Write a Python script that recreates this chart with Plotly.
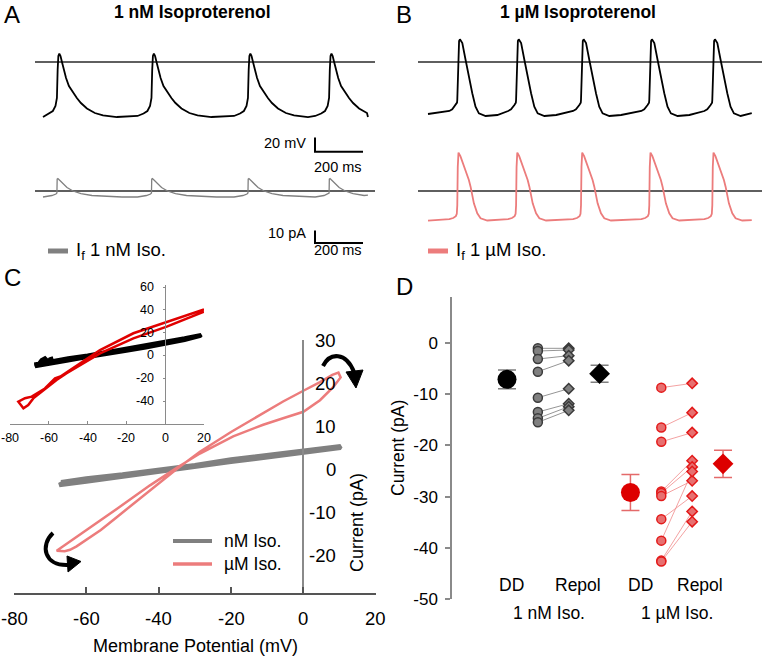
import plotly.graph_objects as go

W, H = 762, 657
FONT = "Liberation Sans, Arial, sans-serif"

# ---------------- DATA ----------------
# Panel A (1 nM Iso): beat template, ms relative to upstroke
A_V_T = [-58, -33, -17, -6, 0, 3, 6, 10, 15, 21, 29, 38, 50, 62.5, 83, 100, 125, 158, 192, 250]
A_V_MV = [-77.1, -73.6, -70.0, -62.9, -51.4, -11.4, 8.6, 12.1, 8.6, 0.0, -11.4, -22.9, -34.3,
          -41.4, -51.4, -58.6, -66.4, -72.9, -76.4, -78.6]
A_I_T = [-58, -21, -4, 0, 1, 4, 12.5, 25, 42, 67, 100, 146, 208, 271]
A_I_PA = [-5.0, -3.75, -2.5, -1.7, 10.0, 10.4, 8.75, 6.25, 2.9, 0.0, -2.1, -3.75, -4.6, -5.0]
A_ONSETS_MS = [58, 452, 854, 1192]
A_SPAN_MS = [0, 1354]
A_V_ENDS = [-78.6, -78.6]
A_I_ENDS = [-5.0, -3.5]

# Panel B (1 uM Iso)
B_V_T = [-33, -21, -7, -1, 0, 3, 7.5, 11, 21, 34.7, 48, 62.5, 76, 90, 118, 167]
B_V_MV = [-70.0, -67.6, -61.4, -58.0, -54.3, 2.9, 30.0, 32.4, 27.0, 2.9, -21.0, -44.7,
          -63.9, -73.3, -77.1, -75.7]
B_I_T = [-33, -17, -6, -2, 0, 2, 5, 13, 22, 34.6, 48.3, 55.4, 69.2, 83.3, 97, 125, 167]
B_I_PA = [-23.5, -22.5, -21.0, -19.0, -12.0, 20.0, 32.0, 29.0, 24.0, 17.5, 9.2, 3.6,
          -10.3, -18.6, -22.8, -24.6, -24.2]
B_ONSETS_MS = [122, 367, 637.5, 922, 1184.6]
B_SPAN_MS = [0, 1349]
B_V_ENDS = [-74.3, -72.9]
B_I_ENDS = [-24.75, -24.2]

# Panel C main: I-V loops (mV, pA)
C_NM_V = [-67.0, -60, -50, -40, -30, -20, -10, 0, 10.3, 10.0, 0, -10, -20, -30, -40, -50, -60, -67.5, -66, -63]
C_NM_I = [-3.1, -2.2, -1.3, -0.3, 0.9, 2.2, 3.2, 4.2, 5.3, 4.9, 3.7, 2.7, 1.7, 0.5, -0.7, -1.8, -2.9, -3.7, -3.0, -2.6]
C_UM_V = [-35, -28.6, -20, -11.1, -5.6, 0, 4.6, 8.0, 9.7, 10.3, 8.3, 4.6, 0, -5.6, -11.1, -19.4,
          -28.6, -35, -42.4, -51.6, -60.8, -66, -68.2, -66, -64.5, -62.7, -56, -51.6, -42.4, -35]
C_UM_I = [0.0, 4.0, 8.6, 13.0, 15.7, 18.2, 20.2, 21.9, 22.4, 21.3, 19.1, 16.0, 13.3, 11.8, 10.3, 7.6,
          3.6, 0.3, -3.8, -9.3, -14.6, -17.8, -19.0, -19.1, -18.8, -18.0, -14.2, -11.2, -5.1, 0.0]
C_TICKS_X = [-80, -60, -40, -20, 0, 20]
C_TICKS_Y = [30, 20, 10, 0, -10, -20]

# Panel C inset
IN_NM_V = [-67.5, -60, -50, -40, -30, -20, -10, 0, 10, 18.5, 18, 10, 0, -10, -20, -30, -40, -50,
           -60, -67.1, -64.9, -63.7, -62.0, -61, -60.3, -59.4, -57.7]
IN_NM_I = [-8.0, -5.5, -2.5, 0.0, 3.0, 5.5, 8.5, 11.5, 15.0, 18.0, 17.0, 13.5, 10.0, 7.0, 4.0, 1.5,
           -1.5, -4.5, -7.5, -9.5, -6.9, -4.0, -2.5, -4.5, -5.5, -3.4, -2.5]
IN_UM_V = [20, 10, 0.8, -16.4, -33.6, -50.8, -56, -68, -70.6, -73.1, -75.7, -72.3, -68.8, -62,
           -56.8, -54, -33.6, -16.4, 0.8, 20]
IN_UM_I = [38.3, 31.5, 25.2, 15.0, 1.8, -15.7, -21.6, -37.7, -43.5, -46.4, -40.6, -37.6, -36.2,
           -29.0, -20.1, -18.5, 4.7, 19.4, 29.6, 40.4]
IN_TICKS_X = [-80, -60, -40, -20, 0, 20]
IN_TICKS_Y = [60, 40, 20, 0, -20, -40]

# Panel D: paired currents (pA)
D_NM_DD = [-1.04, -1.56, -3.13, -5.60, -10.68, -13.48, -14.71, -15.49]
D_NM_REPOL = [-1.04, -1.37, -2.47, -3.45, -8.92, -11.85, -12.43, -13.15]
D_UM_DD = [-8.72, -16.5, -19.3, -29.0, -29.3, -29.9, -34.4, -38.6, -42.5, -42.7]
D_UM_REPOL = [-7.88, -13.6, -17.5, -23.0, -24.2, -26.9, -29.9, -25.1, -32.9, -34.9]
D_MEAN_POS = [1, 4, 5, 8]
D_MEAN_VAL = [-7.1, -6.0, -29.2, -23.6]
D_MEAN_ERR = [1.85, 1.65, 3.5, 2.65]
D_PAIR_POS = [2, 3, 6, 7]
D_TICKS_Y = [0, -10, -20, -30, -40, -50]
D_CAT1 = ["DD", "Repol", "DD", "Repol"]
D_CAT1_X = [1.16, 3.3, 5.31, 7.25]
D_CAT2 = ["1 nM Iso.", "1 µM Iso."]
D_CAT2_X = [2.36, 6.51]

BLACK = "#000000"
GRAY = "#808080"
PINK = "#ec7c7c"
RED = "#e00000"


# ---------------- helpers ----------------
def build_trace(t_tpl, v_tpl, onsets, span, ends):
    ts, vs = [span[0]], [ends[0]]
    for o in onsets:
        for t, v in zip(t_tpl, v_tpl):
            tt = o + t
            if span[0] < tt < span[1]:
                ts.append(tt)
                vs.append(v)
    ts.append(span[1])
    vs.append(ends[1])
    return ts, vs


def xdom(p0, p1):
    return [p0 / W, min(p1 / W, 1.0)]


def ydom(top, bot):
    return [1 - bot / H, 1 - top / H]


def xr(p0, p1, pref, vref, scale):
    return [vref + (p0 - pref) / scale, vref + (p1 - pref) / scale]


def yr(top, bot, pref, vref, scale):
    return [vref + (pref - bot) / scale, vref + (pref - top) / scale]


def PX(x):
    return x / W


def PY(y):
    return 1 - y / H


def path(points, close=False):
    s = "M " + " L ".join(f"{PX(x):.5f},{PY(y):.5f}" for x, y in points)
    return s + (" Z" if close else "")


def cpath(p0, c1, c2, p1):
    f = lambda p: f"{PX(p[0]):.5f},{PY(p[1]):.5f}"
    return f"M {f(p0)} C {f(c1)} {f(c2)} {f(p1)}"


annotations = []


def ann(text, x, y, size, xanchor="center", yanchor="middle", bold=False, angle=0,
        xref="paper", yref="paper", color="#000"):
    if xref == "paper":
        x = PX(x)
    if yref == "paper":
        y = PY(y)
    annotations.append(dict(text=f"<b>{text}</b>" if bold else text, x=x, y=y, xref=xref, yref=yref,
                            xanchor=xanchor, yanchor=yanchor, showarrow=False, textangle=angle,
                            font=dict(family=FONT, size=size, color=color)))


shapes = []


def seg(x0, y0, x1, y1, color=BLACK, width=2):
    shapes.append(dict(type="line", xref="paper", yref="paper", x0=PX(x0), y0=PY(y0), x1=PX(x1),
                       y1=PY(y1), line=dict(color=color, width=width)))


fig = go.Figure()

# ---------------- Panel A / B traces ----------------
tA_v, vA = build_trace(A_V_T, A_V_MV, A_ONSETS_MS, A_SPAN_MS, A_V_ENDS)
tA_i, iA = build_trace(A_I_T, A_I_PA, A_ONSETS_MS, A_SPAN_MS, A_I_ENDS)
tB_v, vB = build_trace(B_V_T, B_V_MV, B_ONSETS_MS, B_SPAN_MS, B_V_ENDS)
tB_i, iB = build_trace(B_I_T, B_I_PA, B_ONSETS_MS, B_SPAN_MS, B_I_ENDS)

fig.add_trace(go.Scatter(x=tA_v, y=vA, mode="lines", line=dict(color=BLACK, width=1.8),
                         xaxis="x", yaxis="y", hoverinfo="skip"))
fig.add_trace(go.Scatter(x=tA_i, y=iA, mode="lines", line=dict(color=GRAY, width=1.3),
                         xaxis="x2", yaxis="y2", hoverinfo="skip"))
fig.add_trace(go.Scatter(x=tB_v, y=vB, mode="lines", line=dict(color=BLACK, width=1.8),
                         xaxis="x3", yaxis="y3", hoverinfo="skip"))
fig.add_trace(go.Scatter(x=tB_i, y=iB, mode="lines", line=dict(color=PINK, width=1.8),
                         xaxis="x4", yaxis="y4", hoverinfo="skip"))

# ---------------- Panel C ----------------
fig.add_trace(go.Scatter(x=C_NM_V, y=C_NM_I, mode="lines", line=dict(color=GRAY, width=4.5),
                         xaxis="x5", yaxis="y5", hoverinfo="skip"))
fig.add_trace(go.Scatter(x=C_UM_V, y=C_UM_I, mode="lines", line=dict(color=PINK, width=2.5),
                         xaxis="x5", yaxis="y5", hoverinfo="skip"))
fig.add_trace(go.Scatter(x=IN_NM_V, y=IN_NM_I, mode="lines", line=dict(color=BLACK, width=4),
                         xaxis="x6", yaxis="y6", hoverinfo="skip"))
fig.add_trace(go.Scatter(x=IN_UM_V, y=IN_UM_I, mode="lines", line=dict(color=RED, width=2.5),
                         xaxis="x6", yaxis="y6", hoverinfo="skip"))


# ---------------- Panel D ----------------
def pair_lines(x0, x1, a, b):
    xs, ys = [], []
    for u, v in zip(a, b):
        xs += [x0, x1, None]
        ys += [u, v, None]
    return xs, ys


xs, ys = pair_lines(D_PAIR_POS[0], D_PAIR_POS[1], D_NM_DD, D_NM_REPOL)
fig.add_trace(go.Scatter(x=xs, y=ys, mode="lines", line=dict(color="#7a7a7a", width=0.8),
                         xaxis="x7", yaxis="y7", hoverinfo="skip"))
xs, ys = pair_lines(D_PAIR_POS[2], D_PAIR_POS[3], D_UM_DD, D_UM_REPOL)
fig.add_trace(go.Scatter(x=xs, y=ys, mode="lines", line=dict(color="#f08a8a", width=0.8),
                         xaxis="x7", yaxis="y7", hoverinfo="skip"))

small = [
    (D_PAIR_POS[0], D_NM_DD, "circle", 9, GRAY, "#3a3a3a"),
    (D_PAIR_POS[1], D_NM_REPOL, "diamond", 8, GRAY, "#3a3a3a"),
    (D_PAIR_POS[2], D_UM_DD, "circle", 9, "#e77070", "#e31a1a"),
    (D_PAIR_POS[3], D_UM_REPOL, "diamond", 8, "#e77070", "#e31a1a"),
]
for pos, vals, sym, sz, fc, lc in small:
    fig.add_trace(go.Scatter(x=[pos] * len(vals), y=vals, mode="markers",
                             marker=dict(symbol=sym, size=sz, color=fc, line=dict(color=lc, width=1.5)),
                             xaxis="x7", yaxis="y7", hoverinfo="skip"))

mean_styles = [("circle", 19, BLACK, "#7f7f7f"), ("diamond", 16, BLACK, "#7f7f7f"),
               ("circle", 19, "#dd0000", "#e46a6a"), ("diamond", 16, "#dd0000", "#e46a6a")]
for pos, val, err, (sym, sz, col, ecol) in zip(D_MEAN_POS, D_MEAN_VAL, D_MEAN_ERR, mean_styles):
    fig.add_trace(go.Scatter(x=[pos], y=[val], mode="markers",
                             error_y=dict(type="data", array=[err], color=ecol, thickness=1.5, width=9),
                             marker=dict(symbol=sym, size=sz, color=col, line=dict(width=0)),
                             xaxis="x7", yaxis="y7", hoverinfo="skip"))

# ---------------- axes ----------------
hidden = dict(visible=False, fixedrange=True, showgrid=False, zeroline=False, automargin=False)
common = dict(showgrid=False, zeroline=False, fixedrange=True, automargin=False)
lay = dict(
    template="none",
    width=W, height=H, margin=dict(l=0, r=0, t=0, b=0, pad=0, autoexpand=False), showlegend=False,
    paper_bgcolor="white", plot_bgcolor="rgba(0,0,0,0)",
    font=dict(family=FONT, color="#000"),
    xaxis=dict(domain=xdom(35, 375), range=xr(35, 375, 43, 0, 0.24), anchor="y", **hidden),
    yaxis=dict(domain=ydom(40, 125), range=yr(40, 125, 62, 0, 0.7), anchor="x", **hidden),
    xaxis2=dict(domain=xdom(35, 375), range=xr(35, 375, 43, 0, 0.24), anchor="y2", **hidden),
    yaxis2=dict(domain=ydom(170, 205), range=yr(170, 205, 191, 0, 1.2), anchor="x2", **hidden),
    xaxis3=dict(domain=xdom(418, 762), range=xr(418, 762, 428, 0, 0.24), anchor="y3", **hidden),
    yaxis3=dict(domain=ydom(30, 125), range=yr(30, 125, 62, 0, 0.7), anchor="x3", **hidden),
    xaxis4=dict(domain=xdom(418, 762), range=xr(418, 762, 428, 0, 0.24), anchor="y4", **hidden),
    yaxis4=dict(domain=ydom(140, 230), range=yr(140, 230, 191, 0, 1.2), anchor="x4", **hidden),
    xaxis5=dict(domain=xdom(14, 375.7), range=[-80, 20], anchor="y5", showline=True,
                linecolor="#555", linewidth=1.5, ticks="inside", ticklen=6, tickwidth=1.5,
                tickcolor="#555", tickvals=C_TICKS_X, showticklabels=False, **common),
    yaxis5=dict(domain=ydom(340, 593), range=yr(340, 593, 469, 0, 4.3), anchor="free",
                position=303.3 / W, showline=True, linecolor="#8a8a8a", linewidth=1.5, ticks="",
                showticklabels=False, **common),
    xaxis6=dict(domain=xdom(10, 204), range=[-80, 20], anchor="y6", showline=True,
                linecolor="#8a8a8a", linewidth=1, ticks="inside", ticklen=3, tickcolor="#8a8a8a",
                tickvals=IN_TICKS_X, showticklabels=False, **common),
    yaxis6=dict(domain=ydom(285, 424), range=yr(285, 424, 355.4, 0, 1.14), anchor="free",
                position=165 / W, showline=True, linecolor="#8a8a8a", linewidth=1, ticks="outside",
                ticklen=2, tickcolor="#8a8a8a", tickvals=IN_TICKS_Y, showticklabels=False, **common),
    xaxis7=dict(domain=xdom(452, 762), range=xr(452, 762, 507, 1, 30.86), anchor="y7", **hidden),
    yaxis7=dict(domain=ydom(297, 599), range=yr(297, 599, 343, 0, 5.12), anchor="x7", side="left",
                showline=True, linecolor="#8a8a8a", linewidth=1.5, ticks="outside", ticklen=5,
                tickwidth=1.5, tickcolor="#8a8a8a", tickvals=D_TICKS_Y,
                ticktext=[str(v) for v in D_TICKS_Y], ticklabeloverflow="allow",
                tickfont=dict(size=17, family=FONT, color="#000"), ticklabelstandoff=4, **common),
)

# zero lines in A/B
for xa, ya in [("x", "y"), ("x2", "y2"), ("x3", "y3"), ("x4", "y4")]:
    shapes.append(dict(type="line", xref=f"{xa} domain", yref=ya, x0=0, x1=1, y0=0, y1=0,
                       line=dict(color="#2a2a2a", width=1.5), layer="below"))

# scale bars
seg(315, 137.5, 315, 151.7, width=2)
seg(314, 151.7, 363, 151.7, width=2)
seg(315, 230.5, 315, 243, width=2)
seg(314, 243, 363, 243, width=2)

# manual legends
seg(48, 251, 68, 251, color=GRAY, width=5)
seg(428, 251, 448, 251, color=PINK, width=5)
seg(173, 541, 212, 541, color=GRAY, width=4)
seg(173, 564, 212, 564, color=PINK, width=3.5)

# curved arrows in C
shapes.append(dict(type="path", xref="paper", yref="paper",
                   path=cpath((323, 366), (330, 352), (346, 352), (354, 372)),
                   line=dict(color=BLACK, width=4)))
shapes.append(dict(type="path", xref="paper", yref="paper",
                   path=path([(346, 372), (363, 370), (356, 388)], close=True),
                   line=dict(color=BLACK, width=1), fillcolor=BLACK))
shapes.append(dict(type="path", xref="paper", yref="paper",
                   path=cpath((53, 533), (40, 545), (44, 566), (68, 565)),
                   line=dict(color=BLACK, width=4)))
shapes.append(dict(type="path", xref="paper", yref="paper",
                   path=path([(67, 556), (81, 561.5), (68, 572)], close=True),
                   line=dict(color=BLACK, width=1), fillcolor=BLACK))

# ---------------- text ----------------
ann("1 nM Isoproterenol", 193, 12, 17.5, bold=True)
ann("1 µM Isoproterenol", 578, 12, 17.5, bold=True)
ann("A", 12, 14, 24)
ann("B", 404, 14, 24)
ann("C", 12.5, 277, 24)
ann("D", 404, 286, 24)
ann("20 mV", 308, 143.5, 14.5, xanchor="right")
ann("200 ms", 338, 167, 14.5)
ann("10 pA", 308, 233, 14.5, xanchor="right")
ann("200 ms", 338, 250, 14.5)
ann("I<sub>f</sub> 1 nM Iso.", 74, 251, 18.5, xanchor="left")
ann("I<sub>f</sub> 1 µM Iso.", 454, 251, 18.5, xanchor="left")
ann("nM Iso.", 222, 541, 17.5, xanchor="left")
ann("µM Iso.", 222, 564, 17.5, xanchor="left")
ann("Membrane Potential (mV)", 195, 646, 18)
ann("Current (pA)", 357, 523, 18, angle=-90)
ann("Current (pA)", 398, 448, 17.5, angle=-90)
# C main tick labels
for v in C_TICKS_X:
    annotations.append(dict(text=str(v), x=v, y=PY(618), xref="x5", yref="paper",
                            xanchor="center", yanchor="middle", showarrow=False,
                            font=dict(family=FONT, size=18.5, color="#000")))
for v in C_TICKS_Y:
    annotations.append(dict(text=str(v), x=PX(338), y=v, xref="paper", yref="y5",
                            xanchor="right", yanchor="middle", showarrow=False,
                            font=dict(family=FONT, size=18.5, color="#000")))
# C inset tick labels
for v in IN_TICKS_X:
    annotations.append(dict(text=str(v), x=v, y=PY(438), xref="x6", yref="paper",
                            xanchor="center", yanchor="middle", showarrow=False,
                            font=dict(family=FONT, size=12.5, color="#000")))
for v in IN_TICKS_Y:
    annotations.append(dict(text=str(v), x=PX(156), y=v, xref="paper", yref="y6",
                            xanchor="right", yanchor="middle", showarrow=False,
                            font=dict(family=FONT, size=12.5, color="#000")))
# D category labels
for t, xv in zip(D_CAT1, D_CAT1_X):
    annotations.append(dict(text=t, x=xv, y=PY(585), xref="x7", yref="paper", showarrow=False,
                            xanchor="center", yanchor="middle",
                            font=dict(family=FONT, size=17.5, color="#000")))
for t, xv in zip(D_CAT2, D_CAT2_X):
    annotations.append(dict(text=t, x=xv, y=PY(613), xref="x7", yref="paper", showarrow=False,
                            xanchor="center", yanchor="middle",
                            font=dict(family=FONT, size=17.5, color="#000")))

lay["shapes"] = shapes
lay["annotations"] = annotations
fig.update_layout(**lay)
fig.write_html("out.html", config={"displayModeBar": False},
               post_script="document.body.style.margin='0px';document.body.style.overflow='hidden';")
